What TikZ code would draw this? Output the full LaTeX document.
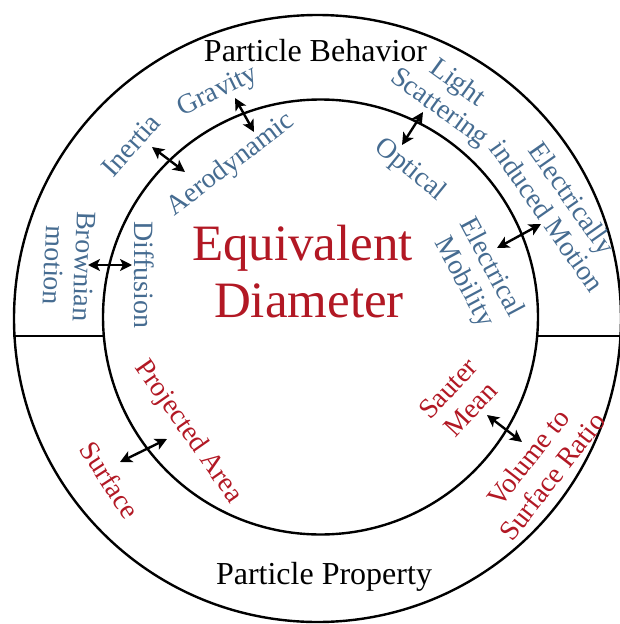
\documentclass[tikz,border=0pt]{standalone}
\usepackage{fontspec}
\setmainfont{Liberation Serif}
\usetikzlibrary{arrows.meta}
\definecolor{lblblue}{RGB}{70,108,145}
\definecolor{lblred}{RGB}{178,24,36}
\begin{document}
\begin{tikzpicture}[x=1pt,y=-1pt,
  ring/.style={circle, draw, line width=2.4pt, inner sep=0pt},
  lbl/.style={inner sep=0pt, align=center, font=\fontsize{28}{30.5}\selectfont},
  beh/.style={lbl, text=lblblue},
  prop/.style={lbl, text=lblred},
  title/.style={inner sep=0pt, font=\fontsize{32}{36}\selectfont},
  center/.style={inner sep=0pt, text=lblred, font=\fontsize{51}{60}\selectfont},
  link/.style={line width=2.4pt, {Stealth[length=12pt,width=12pt,inset=3pt]}-{Stealth[length=12pt,width=12pt,inset=3pt]}},
  divider/.style={line width=2.4pt}]
\useasboundingbox (0,0) rectangle (619,624);
\fill[white] (0,0) rectangle (619,624);
% rings
\node[ring, minimum size=607pt] (outer) at (317.5,318.5) {};
\node[ring, minimum size=435pt] (inner) at (320.5,317) {};
\draw[divider] (inner.185.8) -- (outer.west |- inner.185.8);
\draw[divider] (inner.-5.3) -- (outer.east |- inner.-5.3);
% titles
\node[title, anchor=base] (pb) at (315.5,61) {Particle Behavior};
\node[title, anchor=base] (pp) at (324,584) {Particle Property};
\node[center, anchor=base] (eq1) at (302.5,260) {Equivalent};
\node[center, anchor=base] (eq2) at (309,317) {Diameter};
% particle behavior labels
\node[beh, rotate=-92] (brown) at (69,266) {Brownian\\motion};
\node[beh, rotate=-90] (diff) at (144,275) {Diffusion};
\node[beh, rotate=48] (inert) at (131,145) {Inertia};
\node[beh, rotate=26] (grav) at (218,92) {Gravity};
\node[beh, rotate=37] (aero) at (231,165) {Aerodynamic};
\node[beh, rotate=-36] (light) at (448,96) {Light\\Scattering};
\node[beh, rotate=-39] (opt) at (410,170) {Optical};
\node[beh, rotate=-55] (elec) at (560,207) {Electrically\\induced Motion};
\node[beh, rotate=-62] (mob) at (477,275) {Electrical\\Mobility};
% particle property labels
\node[prop, rotate=-55] (proj) at (188,432) {Projected Area};
\node[prop, rotate=-57] (surf) at (110,480) {Surface};
\node[prop, rotate=47] (saut) at (459,399) {Sauter\\Mean};
\node[prop, rotate=52] (vol) at (540,467) {Volume to\\Surface Ratio};
% arrow ends
\coordinate (brownE) at (88,265);   \coordinate (diffE) at (132,265);
\coordinate (inertE) at (152,147);  \coordinate (aeroE1) at (185,172);
\coordinate (gravE) at (235,98);    \coordinate (aeroE2) at (254,132);
\coordinate (lightE) at (423,112);  \coordinate (optE) at (402,145);
\coordinate (mobE) at (497,248);    \coordinate (elecE) at (541,224);
\coordinate (surfE) at (120,462);   \coordinate (projE) at (167,439);
\coordinate (sautE) at (487,415);   \coordinate (volE) at (522,442);
\draw[link] (brownE) -- (diffE);
\draw[link] (inertE) -- (aeroE1);
\draw[link] (gravE) -- (aeroE2);
\draw[link] (lightE) -- (optE);
\draw[link] (mobE) -- (elecE);
\draw[link] (surfE) -- (projE);
\draw[link] (sautE) -- (volE);
\end{tikzpicture}
\end{document}
